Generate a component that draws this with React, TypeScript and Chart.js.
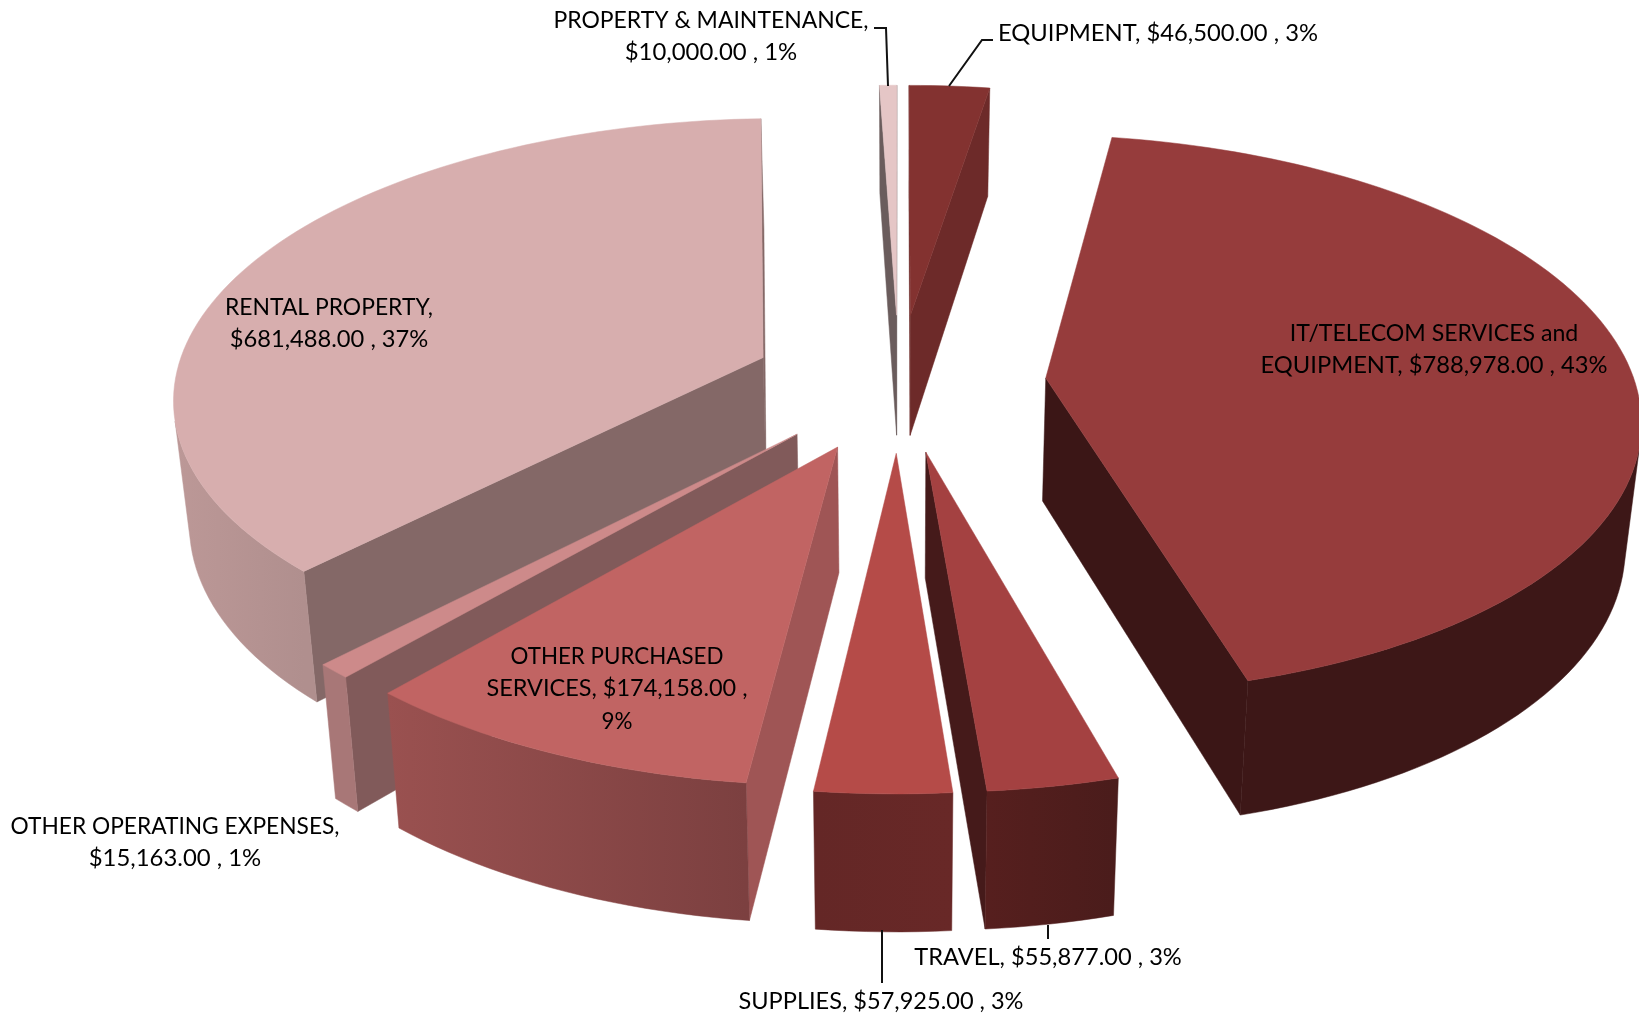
import React, { useEffect, useRef } from "react";
import { Chart, registerables } from "chart.js";

Chart.register(...registerables);

// ---------- data ----------
const categories = [
  "EQUIPMENT",
  "IT/TELECOM SERVICES and EQUIPMENT",
  "TRAVEL",
  "SUPPLIES",
  "OTHER PURCHASED SERVICES",
  "OTHER OPERATING EXPENSES",
  "RENTAL PROPERTY",
  "PROPERTY & MAINTENANCE",
];
const amounts = [46500, 788978, 55877, 57925, 174158, 15163, 681488, 10000];
const labelLines = [
  ["EQUIPMENT, $46,500.00 , 3%"],
  ["IT/TELECOM SERVICES and", "EQUIPMENT, $788,978.00 , 43%"],
  ["TRAVEL, $55,877.00 , 3%"],
  ["SUPPLIES, $57,925.00 , 3%"],
  ["OTHER PURCHASED", "SERVICES, $174,158.00 ,", "9%"],
  ["OTHER OPERATING EXPENSES,", "$15,163.00 , 1%"],
  ["RENTAL PROPERTY,", "$681,488.00 , 37%"],
  ["PROPERTY & MAINTENANCE,", "$10,000.00 , 1%"],
];

// ---------- styles ----------
const topColors = ["#833230", "#963c3c", "#a44141", "#b54b48", "#c16463", "#cd8a8a", "#d7aeae", "#e5c6c6"];
const radialColors = ["#6d2a29", "#3b1616", "#451a1a", "#5a2120", "#9f5555", "#815a5a", "#846867", "#6a5c5c"];
const wallFromColors = ["#6d2a29", "#3d1717", "#4a1c1b", "#682827", "#7c4040", "#a87777", "#b08f8e", "#6a5c5c"];
const wallToColors = ["#6d2a29", "#3d1717", "#561f1e", "#642726", "#9a5150", "#a87777", "#bc9897", "#6a5c5c"];
const labelCenters = [
  [1158, 33.5],
  [1434, 333],
  [1048, 957],
  [881, 1001],
  [617, 656],
  [175, 826],
  [329, 307],
  [711, 20],
];
const labelWidths = [
  [320],
  [288.5, 347],
  [267.6],
  [285],
  [213, 261, 31],
  [329, 172.5],
  [208, 198.6],
  [315, 172.5],
];
const leaderLines = [
  [[993, 40], [982, 40], [949, 86]],
  [[1048, 925], [1048, 939]],
  [[882, 930], [882, 983]],
  [[874, 28], [886, 28], [888, 86]],
];
const LINE_HEIGHT = 32.5;
const FONT = '24px Lato, "Noto Sans", sans-serif';

// projection constants of the tilted, perspective pie
const SCREEN_A = 589;
const SCREEN_B = 276;
const PERSPECTIVE = 0.13;
const DEPTH_BASE = 123;
const DEPTH_SLOPE = 12;
const BOTTOM_SHRINK = 0.978;
const OFFSET_UNIT = 380;

type P = { x: number; y: number; Y: number };

const pie3d = {
  id: "pie3d",
  beforeDatasetDraw(chart: any, args: any) {
    const ctx = chart.ctx as CanvasRenderingContext2D;
    const arcs = args.meta.data as any[];
    const order = arcs
      .map((arc, i) => ({ arc, i, key: Math.sin((arc.startAngle + arc.endAngle) / 2) }))
      .sort((a, b) => a.key - b.key);

    for (const { arc, i } of order) {
      const { x: cx, y: cy, startAngle, endAngle, options } = arc;
      const e = options.offset / OFFSET_UNIT;
      const mid = (startAngle + endAngle) / 2;
      const ox = Math.cos(mid) * e;
      const oy = Math.sin(mid) * e;

      const top = (X: number, Y: number): P => {
        const s = 1 / (1 - PERSPECTIVE * Y);
        return { x: cx + SCREEN_A * X * s, y: cy + SCREEN_B * Y * s, Y };
      };
      const bottom = (p: P): P => ({
        x: cx + (p.x - cx) * BOTTOM_SHRINK,
        y: p.y + DEPTH_BASE + DEPTH_SLOPE * p.Y,
        Y: p.Y,
      });
      const facing = (p: P, q: P) => {
        const pts = [p, q, bottom(q), bottom(p)];
        let area = 0;
        for (let n = 0; n < 4; n++) {
          const u = pts[n];
          const v = pts[(n + 1) % 4];
          area += u.x * v.y - v.x * u.y;
        }
        return area < 0;
      };
      const fillPoly = (pts: P[], fill: any) => {
        ctx.beginPath();
        pts.forEach((p, n) => (n ? ctx.lineTo(p.x, p.y) : ctx.moveTo(p.x, p.y)));
        ctx.closePath();
        ctx.fillStyle = fill;
        ctx.strokeStyle = fill;
        ctx.lineWidth = 0.5;
        ctx.fill();
        ctx.stroke();
      };

      const steps = Math.max(2, Math.ceil(((endAngle - startAngle) * 180) / Math.PI / 1.5));
      const rim: P[] = [];
      for (let k = 0; k <= steps; k++) {
        const a = startAngle + ((endAngle - startAngle) * k) / steps;
        rim.push(top(ox + Math.cos(a), oy + Math.sin(a)));
      }
      const apex = top(ox, oy);
      const last = rim[rim.length - 1];

      if (facing(apex, rim[0])) fillPoly([apex, rim[0], bottom(rim[0]), bottom(apex)], radialColors[i]);
      if (facing(last, apex)) fillPoly([last, apex, bottom(apex), bottom(last)], radialColors[i]);

      const visible: P[] = [];
      for (let k = 0; k < steps; k++) {
        if (facing(rim[k], rim[k + 1])) {
          if (!visible.length) visible.push(rim[k]);
          visible.push(rim[k + 1]);
        }
      }
      if (visible.length > 1) {
        const g = ctx.createLinearGradient(visible[0].x, 0, visible[visible.length - 1].x, 0);
        g.addColorStop(0, wallFromColors[i]);
        g.addColorStop(1, wallToColors[i]);
        fillPoly([...visible, ...visible.map(bottom).reverse()], g);
      }

      fillPoly([apex, ...rim], options.backgroundColor);
    }
    return false;
  },
  afterDatasetsDraw(chart: any) {
    const ctx = chart.ctx as CanvasRenderingContext2D;
    ctx.save();
    ctx.strokeStyle = "#111";
    ctx.lineWidth = 2;
    for (const line of leaderLines) {
      ctx.beginPath();
      line.forEach(([x, y], n) => (n ? ctx.lineTo(x, y) : ctx.moveTo(x, y)));
      ctx.stroke();
    }
    ctx.fillStyle = "#000";
    ctx.font = FONT;
    ctx.textAlign = "center";
    ctx.textBaseline = "middle";
    labelLines.forEach((lines, i) => {
      lines.forEach((text, n) => {
        ctx.fillText(text, labelCenters[i][0], labelCenters[i][1] + n * LINE_HEIGHT, labelWidths[i][n]);
      });
    });
    ctx.restore();
  },
};

export default function App() {
  const ref = useRef<HTMLCanvasElement>(null);
  useEffect(() => {
    const chart = new Chart(ref.current as HTMLCanvasElement, {
      type: "pie",
      data: {
        labels: categories,
        datasets: [
          {
            data: amounts,
            backgroundColor: topColors,
            borderWidth: 0,
            offset: 95,
          },
        ],
      },
      options: {
        responsive: false,
        animation: false,
        layout: { padding: { left: 159, right: 0, top: 0, bottom: 254 } },
        plugins: { legend: { display: false }, tooltip: { enabled: false } },
      },
      plugins: [pie3d],
    } as any);
    return () => chart.destroy();
  }, []);
  return (
    <canvas
      ref={ref}
      width={1639}
      height={1018}
      style={{ position: "absolute", left: 0, top: 0, display: "block", background: "#fff" }}
    />
  );
}
